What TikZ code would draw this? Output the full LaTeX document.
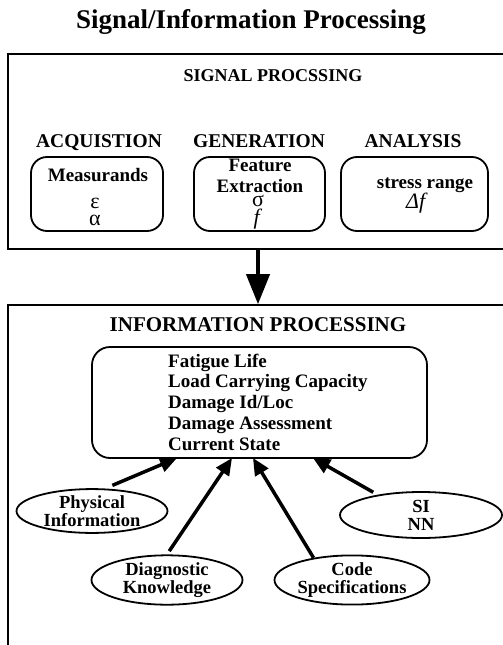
\documentclass[tikz,border=0pt]{standalone}
\usepackage{fontspec}
\setmainfont{Liberation Serif}
\usetikzlibrary{shapes.geometric,arrows.meta,calc}
\begin{document}
\begin{tikzpicture}[x=1pt,y=-1pt,
  bigbox/.style={draw, line width=1.6pt, inner sep=0pt},
  rbox/.style={draw, line width=1.8pt, rounded corners=16pt, minimum height=74pt, inner sep=0pt},
  mbox/.style={draw, line width=1.8pt, rounded corners=18pt, inner sep=0pt},
  ell/.style={draw, ellipse, line width=1.8pt, inner sep=0pt, align=center,
    font=\fontsize{18.5pt}{18pt}\selectfont\bfseries},
  head/.style={anchor=base, inner sep=0pt, font=\fontsize{19.5pt}{22pt}\selectfont\bfseries},
  btxt/.style={anchor=base, inner sep=0pt, font=\fontsize{19pt}{22pt}\selectfont\bfseries},
  gtxt/.style={anchor=base, inner sep=0pt, font=\fontsize{22pt}{22pt}\selectfont},
  ltxt/.style={anchor=base west, inner sep=0pt, font=\fontsize{19pt}{22pt}\selectfont\bfseries},
  arr/.style={line width=3.5pt, -{Triangle[length=17pt,width=15pt]}},
  bigarr/.style={line width=4pt, -{Triangle[length=30pt,width=23pt]}}
]
\useasboundingbox (0,0) rectangle (503,645);

\node[font=\fontsize{27pt}{30pt}\selectfont\bfseries] (title) at (251,22) {Signal/Information Processing};

% signal processing box
\node[bigbox, minimum width=512pt, minimum height=195pt] (sigbox) at (264,151.5) {};
\node[anchor=base, inner sep=0pt, font=\fontsize{18pt}{22pt}\selectfont\bfseries] (sp) at (273,81.5) {SIGNAL PROCSSING};

\node[head] (acq) at (99,147.5) {ACQUISTION};
\node[head] (gen) at (259,147.5) {GENERATION};
\node[head] (ana) at (413,147.5) {ANALYSIS};

\node[rbox, minimum width=132pt] (b1) at (97,194) {};
\node[rbox, minimum width=131pt] (b2) at (259.5,194) {};
\node[rbox, minimum width=147pt] (b3) at (414.5,194) {};

\node[btxt] (m1) at (98,181) {Measurands};
\node[gtxt] (m2) at (95,208) {ε};
\node[gtxt] (m3) at (95,225) {α};

\node[btxt] (g1) at (260,171) {Feature};
\node[btxt] (g2) at (260,192) {Extraction};
\node[gtxt] (g3) at (258,206) {σ};
\node[gtxt] (g4) at (258,224) {\textit{f}};

\node[btxt] (s1) at (425,188) {stress range};
\node[gtxt] (s2) at (417,208) {\textit{Δf}};

% information processing box
\node[bigbox, minimum width=512pt, minimum height=395pt] (infobox) at (264,502.5) {};
\coordinate (ax) at (258,0);
\draw[bigarr] (sigbox.south -| ax) -- (infobox.north -| ax);

\node[anchor=base, inner sep=0pt, font=\fontsize{21pt}{24pt}\selectfont\bfseries] (ip) at (258,331) {INFORMATION PROCESSING};

\node[mbox, minimum width=335pt, minimum height=111pt] (main) at (259.5,402.5) {};
\node[ltxt] (l1) at (168,367) {Fatigue Life};
\node[ltxt] (l2) at (168,387.5) {Load Carrying Capacity};
\node[ltxt] (l3) at (168,408) {Damage Id/Loc};
\node[ltxt] (l4) at (168,429) {Damage Assessment};
\node[ltxt] (l5) at (168,450) {Current State};

\node[ell, minimum width=151pt, minimum height=42pt] (phys) at (92,511) {Physical\\Information};
\node[ell, minimum width=162pt, minimum height=46pt] (si) at (421,515) {SI\\NN};
\node[ell, minimum width=151pt, minimum height=45pt] (diag) at (167,580) {Diagnostic\\Knowledge};
\node[ell, minimum width=155pt, minimum height=45pt] (code) at (352,580) {Code\\Specifications};

\coordinate (t1) at (177,458);
\coordinate (t2) at (232,458);
\coordinate (t3) at (253,458);
\coordinate (t4) at (313,458);

\draw[arr, shorten <=8pt] (phys.60) -- (t1);
\draw[arr, shorten <=4pt] (diag.north) -- (t2);
\draw[arr] (code.150) -- (t3);
\draw[arr, shorten <=5pt] (si.155) -- (t4);
\end{tikzpicture}
\end{document}
